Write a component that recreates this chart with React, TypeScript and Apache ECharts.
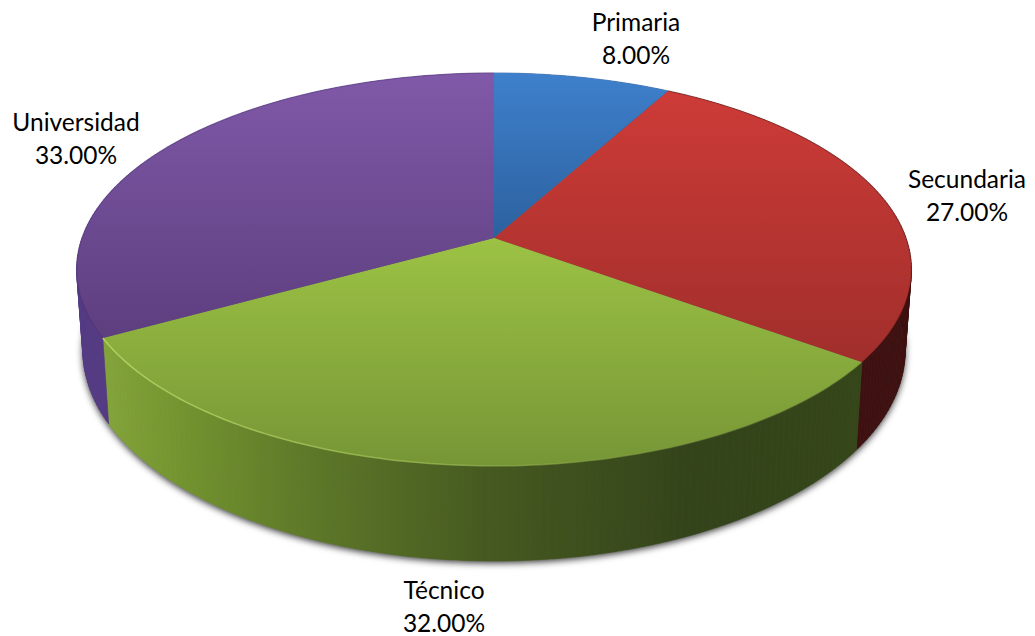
import React, { useEffect, useRef } from "react";
import * as echarts from "echarts";

const categories = ["Primaria", "Secundaria", "Técnico", "Universidad"];
const shares = [8, 27, 32, 33];

// Perspective disc: apex of the slices, radii of the projected circle, depth foreshortening.
const APEX_X = 494;
const APEX_Y = 238;
const RADIUS_X = 412;
const RADIUS_Y = 191.4;
const FORESHORTEN = -0.16;
// Lower rim of the cylinder.
const BASE_SCALE = 0.985;
const BASE_Y = 317;
const BASE_RADIUS_Y = 205;

const TOP_Y = 73;
const BOTTOM_Y = 466;

const total = shares.reduce((a, b) => a + b, 0);
const angleAt = (index: number) =>
  (shares.slice(0, index).reduce((a, b) => a + b, 0) / total) * Math.PI * 2;

const topRim = (t: number): number[] => {
  const x = Math.sin(t);
  const y = -Math.cos(t);
  const w = 1 + FORESHORTEN * y;
  return [APEX_X + (RADIUS_X * x) / w, APEX_Y + (RADIUS_Y * y) / w];
};

const baseRim = (t: number): number[] => {
  const x = Math.sin(t);
  const y = -Math.cos(t);
  const w = 1 + FORESHORTEN * y;
  return [APEX_X + (BASE_SCALE * RADIUS_X * x) / w, BASE_Y + (BASE_RADIUS_Y * y) / w];
};

const arc = (rim: (t: number) => number[], from: number, to: number): number[][] => {
  const steps = Math.max(2, Math.ceil(((to - from) * 180) / Math.PI));
  const out: number[][] = [];
  for (let i = 0; i <= steps; i++) out.push(rim(from + ((to - from) * i) / steps));
  return out;
};

const vertical = (stops: [number, string][]) =>
  new echarts.graphic.LinearGradient(
    0, TOP_Y, 0, BOTTOM_Y,
    stops.map(([offset, color]) => ({ offset, color })),
    true
  );

const horizontal = (x0: number, x1: number, stops: [number, string][]) =>
  new echarts.graphic.LinearGradient(
    x0, 0, x1, 0,
    stops.map(([offset, color]) => ({ offset, color })),
    true
  );

const faceFills = [
  vertical([[0, "#3e80cc"], [0.42, "#2c619f"], [1, "#2c619f"]]),
  vertical([[0, "#d03c38"], [0.7, "#a32f2c"], [1, "#962b28"]]),
  vertical([[0, "#a4cc48"], [0.42, "#9cc244"], [1, "#769636"]]),
  vertical([[0, "#8059a8"], [0.65, "#5e3f80"], [1, "#523672"]]),
];

const wallFills = [
  "#2a5488",
  "#3e1010",
  horizontal(105, 860, [
    [0, "#84a53a"],
    [0.1, "#73942f"],
    [0.26, "#5f7a29"],
    [0.5, "#465a20"],
    [0.78, "#33431a"],
    [1, "#354619"],
  ]),
  "#553a84",
];

const rimStrokes = [
  "rgba(90,150,220,0.15)",
  "rgba(90,20,20,0.2)",
  horizontal(105, 860, [
    [0, "rgba(182,213,102,0.9)"],
    [0.4, "rgba(160,192,85,0.7)"],
    [0.75, "rgba(125,154,62,0.5)"],
    [1, "rgba(100,128,58,0.3)"],
  ]),
  "rgba(60,35,100,0.2)",
];

const labelAnchors = [
  [636, 38],
  [967, 195],
  [444, 606],
  [76, 138],
];

export default function App() {
  const ref = useRef<HTMLDivElement>(null);

  useEffect(() => {
    const chart = echarts.init(ref.current!, undefined, { renderer: "svg" });
    chart.setOption({
      animation: false,
      backgroundColor: "#ffffff",
      series: [
        {
          // Soft drop shadow below the lower rim.
          type: "custom",
          coordinateSystem: "none",
          z: 1,
          silent: true,
          data: [0],
          renderItem: () => ({
            type: "polygon",
            shape: { points: arc(baseRim, 0, Math.PI * 2) },
            style: {
              fill: "#666666",
              shadowColor: "rgba(0,0,0,0.8)",
              shadowBlur: 7,
              shadowOffsetY: 2,
            },
          }),
        },
        {
          // Outer walls, built from narrow strips so the silhouette stays convex
          // where the upper and lower rims cross.
          type: "custom",
          coordinateSystem: "none",
          z: 2,
          silent: true,
          data: shares,
          renderItem: (params: any) => {
            const i = params.dataIndex;
            const from = angleAt(i);
            const to = angleAt(i + 1);
            const upper = arc(topRim, from, to);
            const lower = arc(baseRim, from, to);
            const children = upper.slice(1).map((p, k) => ({
              type: "polygon",
              shape: { points: [upper[k], p, lower[k + 1], lower[k]] },
              style: { fill: wallFills[i], stroke: wallFills[i], lineWidth: 0.6 },
            }));
            return { type: "group", children };
          },
        },
        {
          // Top faces, rim highlights and value labels.
          type: "custom",
          coordinateSystem: "none",
          z: 3,
          silent: true,
          data: shares,
          renderItem: (params: any, api: any) => {
            const i = params.dataIndex;
            const from = angleAt(i);
            const to = angleAt(i + 1);
            const rim = arc(topRim, from, to);
            const [lx, ly] = labelAnchors[i];
            return {
              type: "group",
              children: [
                {
                  type: "polygon",
                  shape: { points: [[APEX_X, APEX_Y], ...rim] },
                  style: { fill: faceFills[i] },
                  z2: i,
                },
                {
                  type: "polyline",
                  shape: { points: rim },
                  style: { fill: "none", stroke: rimStrokes[i], lineWidth: 1.5 },
                  z2: 10,
                },
                {
                  type: "text",
                  x: lx,
                  y: ly,
                  z2: 20,
                  style: {
                    text: `${categories[i]}\n${Number(api.value(0)).toFixed(2)}%`,
                    fill: "#000000",
                    font: '24.5px Lato, "Open Sans", sans-serif',
                    lineHeight: 32.5,
                    align: "center",
                    verticalAlign: "middle",
                  },
                },
              ],
            };
          },
        },
      ],
    });
    return () => chart.dispose();
  }, []);

  return (
    <div
      ref={ref}
      style={{ position: "fixed", left: 0, top: 0, width: 1035, height: 636 }}
    />
  );
}
